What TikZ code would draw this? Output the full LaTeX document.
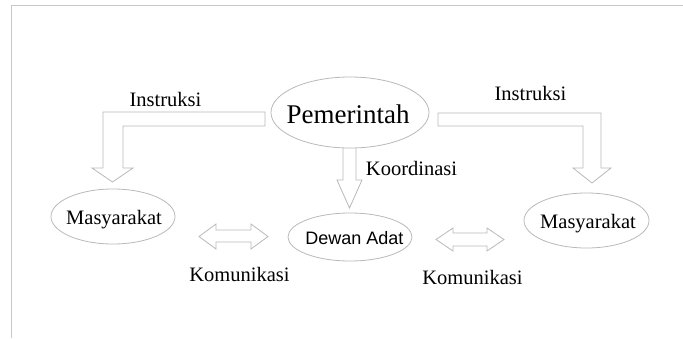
\documentclass[tikz,border=0pt]{standalone}
\usepackage{fontspec}
\setmainfont{Liberation Serif}
\setsansfont{Liberation Sans}
\usetikzlibrary{shapes.geometric}
\definecolor{edge}{RGB}{185,185,185}
\definecolor{frame}{RGB}{200,200,200}
\tikzset{
  ell/.style={ellipse, draw=edge, fill=white, line width=0.8pt, inner sep=0pt},
  blockarrow/.style={draw=edge, fill=white, line width=0.8pt, line join=miter},
  lbl/.style={inner sep=0pt, font=\fontsize{20.5}{24}\selectfont},
}
\begin{document}
\begin{tikzpicture}[x=1pt, y=-1pt]
\useasboundingbox (0,0) rectangle (683,338);
% frame
\draw[frame, line width=1pt] (11,338) -- (11,5) -- (683,5);

% block arrows
\draw[blockarrow] (265,112) -- (103,112) -- (103,168) -- (92,168) -- (112.5,182) -- (133,168) -- (123,168) -- (123,126) -- (265,126) -- cycle;
\draw[blockarrow] (438,113) -- (601,113) -- (601,168) -- (611,168) -- (592,183) -- (573,168) -- (583,168) -- (583,126) -- (438,126) -- cycle;
\draw[blockarrow] (343,140) -- (343,180) -- (337,180) -- (349.5,208) -- (362,180) -- (356,180) -- (356,140) -- cycle;
\draw[blockarrow] (199,236.5) -- (216,224) -- (216,230) -- (251,230) -- (251,224) -- (268,236.5) -- (251,249) -- (251,242) -- (216,242) -- (216,249) -- cycle;
\draw[blockarrow] (436,239.5) -- (453,228) -- (453,233) -- (487,233) -- (487,228) -- (504,239.5) -- (487,251) -- (487,246) -- (453,246) -- (453,251) -- cycle;

% ellipses
\node[ell, minimum width=158pt, minimum height=71pt] (pem) at (350,112.5) {};
\node[font=\fontsize{27}{30}\selectfont, inner sep=0pt] (pemt) at (348,114) {Pemerintah};
\node[ell, minimum width=124pt, minimum height=55pt] (mas1) at (113,216.5) {};
\node[lbl] (mas1t) at (114,220) {Masyarakat};
\node[ell, minimum width=125pt, minimum height=55pt] (mas2) at (586.5,220.5) {};
\node[lbl] (mas2t) at (588,224) {Masyarakat};
\node[ell, minimum width=124pt, minimum height=48pt] (dew) at (350,237) {};
\node[inner sep=0pt, font=\sffamily\fontsize{18}{21}\selectfont] (dewt) at (354.5,238) {Dewan Adat};

% labels
\node[lbl] (ins1) at (165.5,99) {Instruksi};
\node[lbl] (ins2) at (530.5,93) {Instruksi};
\node[lbl] (koo) at (411.5,168.5) {Koordinasi};
\node[lbl] (kom1) at (239.5,274.5) {Komunikasi};
\node[lbl] (kom2) at (472.5,277.5) {Komunikasi};
\end{tikzpicture}
\end{document}
